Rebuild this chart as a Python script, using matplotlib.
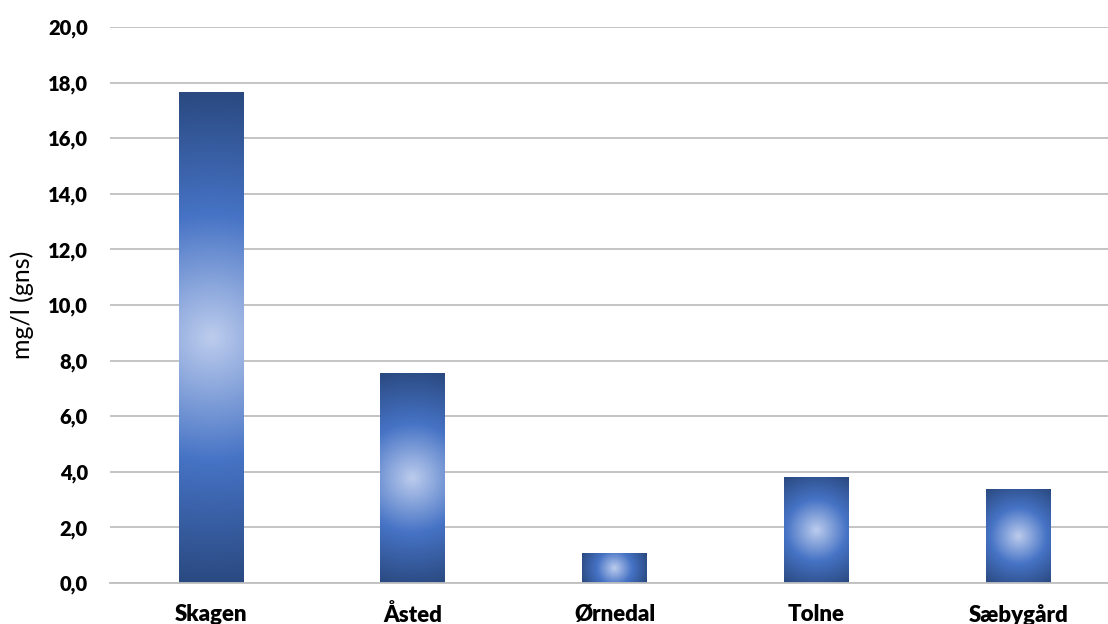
import numpy as np
import matplotlib
matplotlib.use("Agg")
from matplotlib import pyplot as plt
from matplotlib.colors import LinearSegmentedColormap

stations = ["Skagen", "Åsted", "Ørnedal", "Tolne", "Sæbygård"]
values = [17.65, 7.55, 1.07, 3.80, 3.37]
yticks = [0, 2, 4, 6, 8, 10, 12, 14, 16, 18, 20]

plt.rcParams['font.family'] = ['Lato', 'DejaVu Sans']

# radial gradient: light centre, mid blue, dark corners
grad = LinearSegmentedColormap.from_list(
    "bar_grad", [(0.0, "#bccced"), (0.5, "#4673c5"), (1.0, "#2a4980")])

fig = plt.figure(figsize=(11.08, 6.24), dpi=100)
ax = fig.add_axes([110/1108, (624-583)/624, 1 - 110/1108, (583-27)/624])
ax.set_xlim(-0.5, 4.445)
ax.set_ylim(0, 20)

width = 0.32
bars = ax.bar(range(len(stations)), values, width=width, color="none",
              edgecolor="none", zorder=3)
for b in bars:
    x0, y0 = b.get_x(), b.get_y()
    w, h = b.get_width(), b.get_height()
    # bar size in pixels, so the gradient circles stay round
    (px0, py0), (px1, py1) = ax.transData.transform([(x0, y0), (x0 + w, y0 + h)])
    hw, hh = (px1 - px0) / 2, (py1 - py0) / 2
    nx, ny = max(int(hw * 2), 2), max(int(hh * 2), 2)
    dx = np.linspace(-hw, hw, nx)
    dy = np.linspace(-hh, hh, ny)
    DX, DY = np.meshgrid(dx, dy)
    T = np.sqrt(DX**2 + DY**2) / np.hypot(hw, hh)
    im = ax.imshow(T, cmap=grad, vmin=0, vmax=1, aspect="auto",
                   extent=(x0, x0 + w, y0, y0 + h), zorder=3,
                   interpolation="bilinear")
    im.set_clip_path(b)

ax.set_xlim(-0.5, 4.445)
ax.set_ylim(0, 20)
ax.set_yticks(yticks, labels=[("%.1f" % t).replace(".", ",") for t in yticks],
              fontweight="heavy", fontsize=14.5)
ax.set_xticks(range(len(stations)), labels=stations,
              fontweight="heavy", fontsize=16)

ax.grid(axis="y", color="#bfbfbf", linewidth=1.3, zorder=0)
ax.set_axisbelow(True)
for s in ["top", "right", "left"]:
    ax.spines[s].set_visible(False)
ax.spines["bottom"].set_color("#bfbfbf")
ax.spines["bottom"].set_linewidth(1.3)
ax.spines["bottom"].set_zorder(4)

ax.tick_params(axis="both", length=0, colors="black")
ax.tick_params(axis="y", pad=16)
ax.tick_params(axis="x", pad=15)

ax.set_ylabel("mg/l (gns)", fontsize=18, labelpad=10)

plt.savefig("out.png", dpi=100)
